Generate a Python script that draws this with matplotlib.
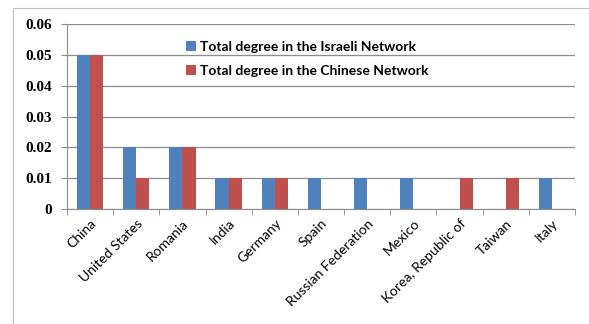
import numpy as np
import matplotlib.pyplot as plt
from matplotlib.patches import Rectangle
from matplotlib.ticker import FixedLocator

countries = ["China", "United States", "Romania", "India", "Germany", "Spain",
             "Russian Federation", "Mexico", "Korea, Republic of", "Taiwan", "Italy"]
israeli = [0.05, 0.02, 0.02, 0.01, 0.01, 0.01, 0.01, 0.01, 0, 0, 0.01]
chinese = [0.05, 0.01, 0.02, 0.01, 0.01, 0, 0, 0, 0.01, 0.01, 0]
yticks = [0, 0.01, 0.02, 0.03, 0.04, 0.05, 0.06]
ytick_labels = ["0", "0.01", "0.02", "0.03", "0.04", "0.05", "0.06"]

plt.rcParams['font.family'] = ['Lato', 'DejaVu Sans']

fig = plt.figure(figsize=[5.89, 3.24], dpi=100)
# chart frame (light border on left and top)
fig.patches.append(Rectangle((13 / 589, -0.1), 1.2, 1 - 8 / 324 + 0.1,
                             transform=fig.transFigure, fill=False,
                             edgecolor="#bfbfbf", linewidth=0.8))

ax = fig.add_axes([67 / 589, 1 - 209 / 324, (575 - 67) / 589, (209 - 24) / 324])
x = np.arange(len(countries))
w = 0.285
ax.bar(x - w / 2, israeli, w, color="#4f81bd", label="Total degree in the Israeli Network", zorder=3)
ax.bar(x + w / 2, chinese, w, color="#c0504d", label="Total degree in the Chinese Network", zorder=3)

ax.set_xlim(-0.5, len(countries) - 0.5)
ax.set_ylim(0, 0.06)
ax.set_yticks(yticks)
ax.set_yticklabels(ytick_labels, fontsize=11, fontweight="bold", family="Liberation Serif")
ax.yaxis.grid(True, color="#8c8c8c", linewidth=0.9, zorder=0)
ax.set_axisbelow(True)

ax.set_xticks(x)
ax.set_xticklabels(countries, rotation=45, ha="right", rotation_mode="anchor", fontsize=10)
ax.tick_params(axis="x", which="major", length=0, pad=6)
ax.xaxis.set_minor_locator(FixedLocator(np.arange(-0.5, len(countries), 1)))
ax.tick_params(axis="x", which="minor", length=4, color="#8c8c8c")
ax.tick_params(axis="y", length=4, color="#8c8c8c", pad=7)

for s in ["top", "right"]:
    ax.spines[s].set_visible(False)
ax.spines["left"].set_color("#8c8c8c")
ax.spines["bottom"].set_color("#8c8c8c")

leg = ax.legend(loc="upper left", bbox_to_anchor=(0.21, 0.975), frameon=False,
                handlelength=0.7, handleheight=0.7, handletextpad=0.3,
                labelspacing=0.85, prop={"weight": "bold", "size": 10})

fig.savefig("out.png", dpi=100)
